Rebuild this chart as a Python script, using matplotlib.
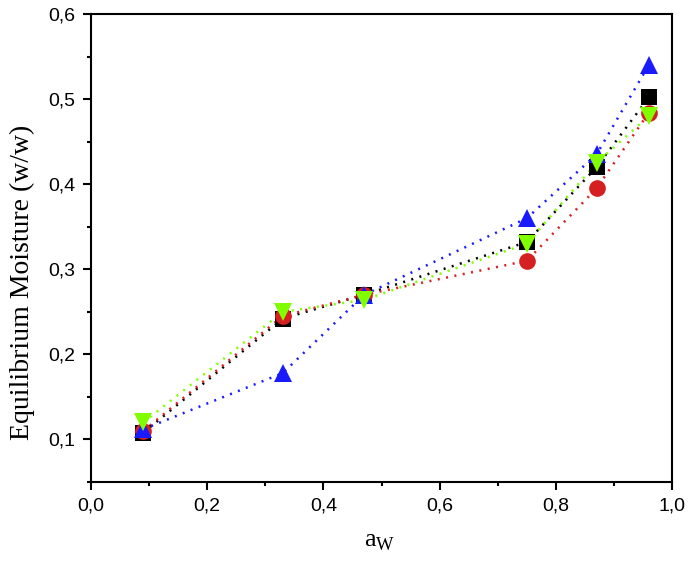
import matplotlib.pyplot as plt
from matplotlib.ticker import MultipleLocator

plt.rcParams['font.family'] = ['Liberation Sans', 'DejaVu Sans']
plt.rcParams['mathtext.fontset'] = 'custom'
plt.rcParams['mathtext.rm'] = 'Liberation Serif'

# water activity and equilibrium moisture for four samples
aw = [0.09, 0.33, 0.47, 0.75, 0.87, 0.96]
s_black = [0.108, 0.242, 0.270, 0.332, 0.420, 0.502]
s_red = [0.110, 0.245, 0.270, 0.310, 0.395, 0.484]
s_blue = [0.112, 0.178, 0.270, 0.360, 0.435, 0.540]
s_green = [0.120, 0.250, 0.264, 0.330, 0.425, 0.480]

series = [
    (s_black, 's', 'black', 11),
    (s_red, 'o', '#d42020', 12),
    (s_blue, '^', '#1a1aff', 13),
    (s_green, 'v', '#80ff00', 13),
]

fig = plt.figure(figsize=(6.88, 5.61), dpi=100)
ax = fig.add_axes([0.1323, 0.1408, 0.8445, 0.8342])

for vals, mk, col, ms in series:
    ax.plot(aw, vals, linestyle=(0, (0.8, 2.6)), color=col, lw=1.8)
for vals, mk, col, ms in series:
    ax.plot(aw, vals, mk, color=col, markersize=ms, markeredgewidth=0, zorder=3)

ax.set_xlim(0, 1.0)
ax.set_ylim(0.05, 0.6)
ax.xaxis.set_major_locator(MultipleLocator(0.2))
ax.xaxis.set_minor_locator(MultipleLocator(0.1))
ax.yaxis.set_major_locator(MultipleLocator(0.1))
ax.yaxis.set_minor_locator(MultipleLocator(0.05))
fmt = lambda v, p: ('%.1f' % v).replace('.', ',')
ax.xaxis.set_major_formatter(plt.FuncFormatter(fmt))
ax.yaxis.set_major_formatter(plt.FuncFormatter(fmt))
ax.tick_params(which='both', direction='out', width=1.5, labelsize=14, colors='black', pad=5)
ax.tick_params(which='major', length=6)
ax.tick_params(which='minor', length=3)
for sp in ax.spines.values():
    sp.set_linewidth(1.5)

ax.set_xlabel(r'$\mathrm{a}_{\mathrm{W}}$', fontsize=19)
ax.xaxis.set_label_coords(0.497, -0.10)
ax.set_ylabel('Equilibrium Moisture (w/w)', family='Liberation Serif', fontsize=20)
ax.yaxis.set_label_coords(-0.096, 0.427)

fig.savefig('out.png', dpi=100)
